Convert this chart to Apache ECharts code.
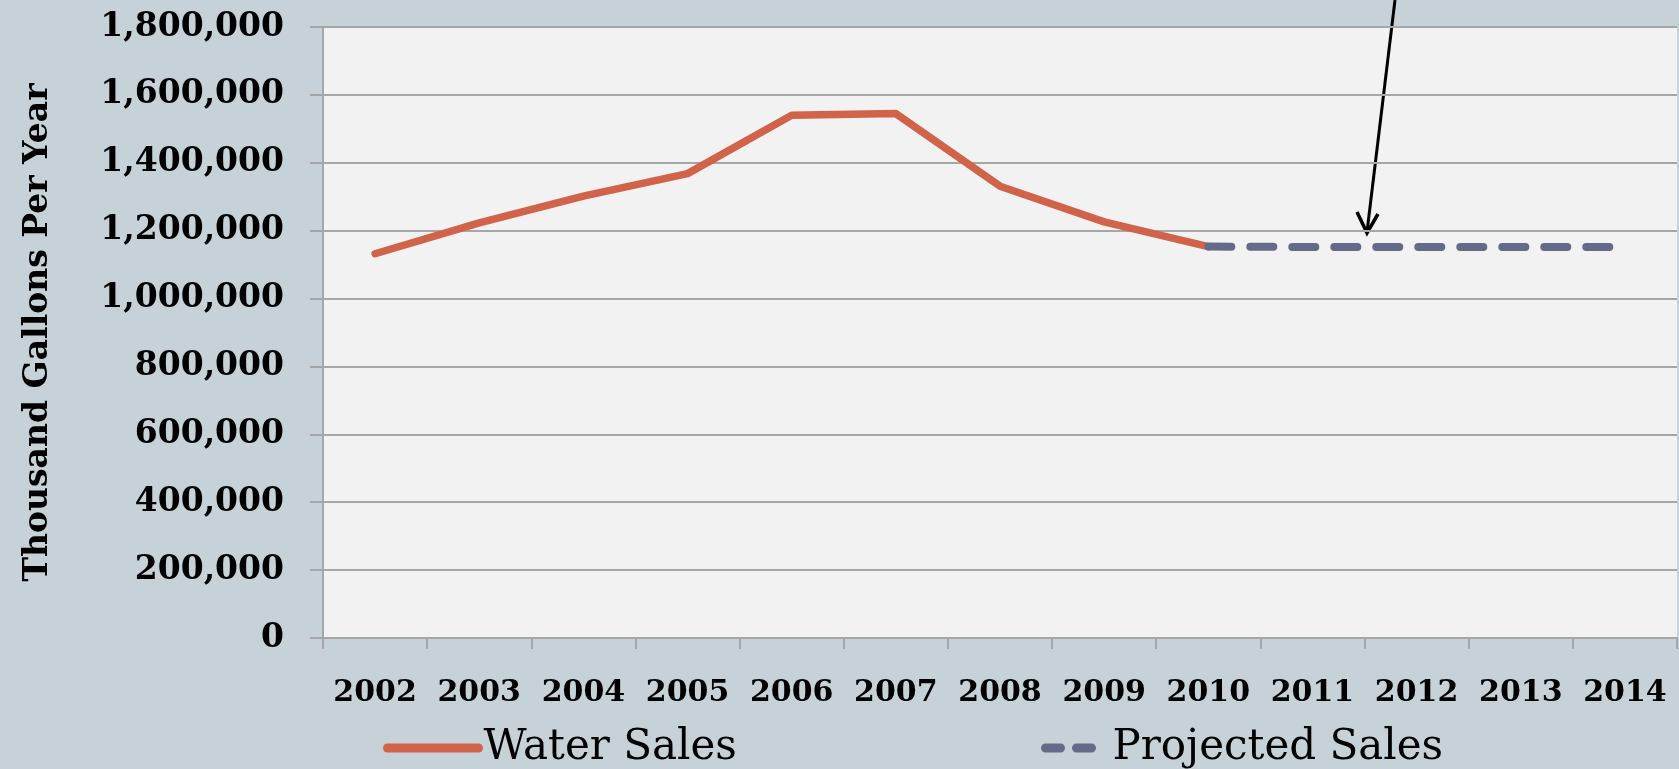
<!DOCTYPE html>
<html>
<head>
<meta charset="utf-8">
<script src="https://cdn.jsdelivr.net/npm/echarts@6/dist/echarts.min.js"></script>
<style>
  html, body { margin: 0; padding: 0; background: #c6d1d8; }
  #chart { width: 1679px; height: 769px; }
</style>
</head>
<body>
<div id="chart"></div>
<script>
const years = ['2002', '2003', '2004', '2005', '2006', '2007', '2008', '2009', '2010', '2011', '2012', '2013', '2014']
const waterSales = [1132000, 1223000, 1302000, 1368000, 1540000, 1545000, 1331000, 1226000, 1153000, null, null, null, null]
const projectedSales = [null, null, null, null, null, null, null, null, 1153000, 1152000, 1152000, 1152000, 1152000]

const serif = '"DejaVu Serif", Georgia, serif'
const gridGray = '#a6a6a6'

const chart = echarts.init(document.getElementById('chart'))
const option = {
  backgroundColor: '#c6d1d8',
  animation: false,
  grid: {
    left: 323,
    right: 2,
    top: 27,
    bottom: 131,
    show: true,
    backgroundColor: '#f2f2f2',
    borderWidth: 0
  },
  legend: [
    {
      data: ['Water Sales'],
      left: 383,
      top: 727,
      padding: 0,
      itemWidth: 91,
      itemHeight: 14,
      itemStyle: { color: 'transparent', borderWidth: 0 },
      lineStyle: { width: 9, cap: 'round' },
      textStyle: { fontFamily: serif, fontSize: 42, color: '#000', padding: [0, 0, 0, 0] }
    },
    {
      data: ['Projected Sales'],
      left: 1041,
      top: 727,
      padding: 0,
      itemWidth: 52,
      itemHeight: 14,
      itemStyle: { color: 'transparent', borderWidth: 0 },
      lineStyle: { width: 9, type: [15, 16], cap: 'round' },
      textStyle: { fontFamily: serif, fontSize: 42, color: '#000', padding: [0, 0, 0, 10] }
    }
  ],
  xAxis: {
    type: 'category',
    data: years,
    boundaryGap: true,
    axisLine: { lineStyle: { color: gridGray, width: 2 } },
    axisTick: { show: true, length: 11, lineStyle: { color: gridGray, width: 2 } },
    axisLabel: {
      interval: 0,
      margin: 40,
      color: '#000',
      fontFamily: serif,
      fontWeight: 'bold',
      fontSize: 30
    },
    splitLine: { show: false }
  },
  yAxis: {
    type: 'value',
    min: 0,
    max: 1800000,
    interval: 200000,
    name: 'Thousand Gallons Per Year',
    nameLocation: 'middle',
    nameGap: 268,
    nameTextStyle: {
      color: '#000',
      fontFamily: serif,
      fontWeight: 'bold',
      fontSize: 33
    },
    axisLine: { show: true, lineStyle: { color: gridGray, width: 2 } },
    axisTick: { show: true, length: 13, lineStyle: { color: gridGray, width: 2 } },
    axisLabel: {
      margin: 39,
      color: '#000',
      fontFamily: serif,
      fontWeight: 'bold',
      fontSize: 33,
      formatter: v => v.toLocaleString('en-US')
    },
    splitLine: { lineStyle: { color: gridGray, width: 2 } }
  },
  series: [
    {
      name: 'Water Sales',
      type: 'line',
      data: waterSales,
      symbol: 'none',
      color: '#d0634a',
      lineStyle: { color: '#d0634a', width: 7.5, cap: 'round', join: 'round' }
    },
    {
      name: 'Projected Sales',
      type: 'line',
      data: projectedSales,
      symbol: 'none',
      color: '#646b88',
      lineStyle: { color: '#646b88', width: 8, type: [23, 19], cap: 'round' }
    }
  ],
  // annotation arrow pointing at the projection
  graphic: [
    {
      type: 'line',
      shape: { x1: 1395, y1: 0, x2: 1367, y2: 232 },
      style: { stroke: '#000', lineWidth: 3 }
    },
    {
      type: 'polyline',
      shape: { points: [[1357, 212], [1367, 233], [1378, 214]] },
      style: { stroke: '#000', lineWidth: 3.5, fill: null }
    }
  ]
}
chart.setOption(option)
</script>
</body>
</html>
